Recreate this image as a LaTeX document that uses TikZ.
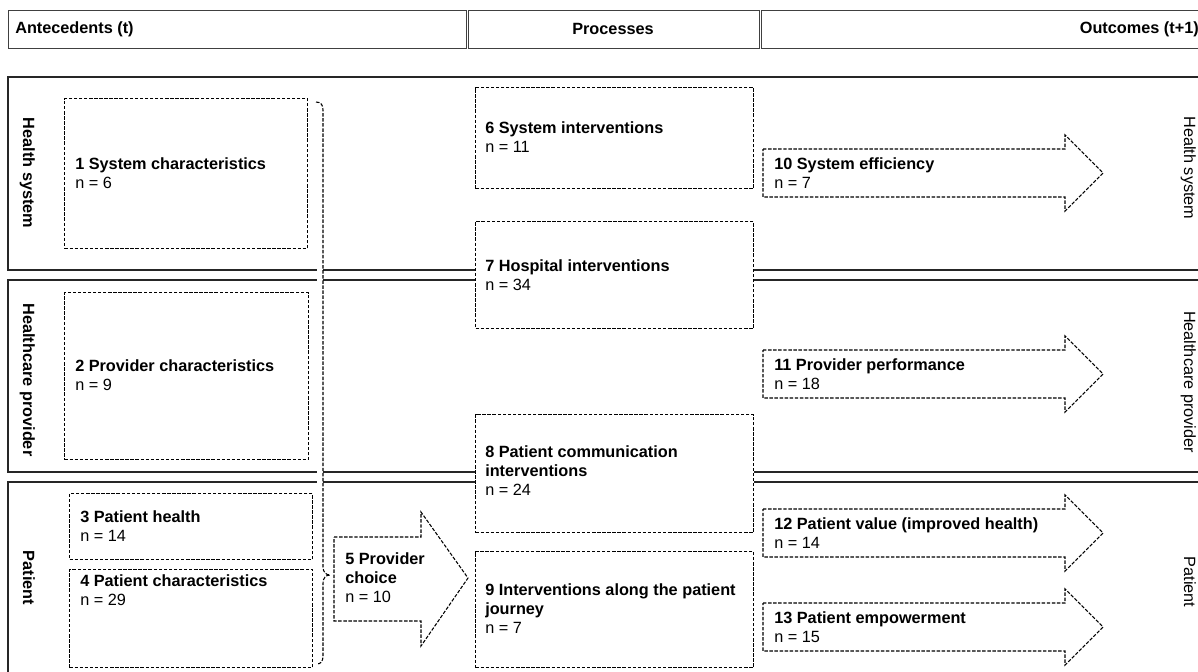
\documentclass[tikz,border=0pt]{standalone}
\usepackage{fontspec}
\setmainfont{Liberation Sans}
\begin{document}
\begin{tikzpicture}[x=0.75pt,y=-0.75pt,
  lane/.style={draw=black!85, line width=1.15pt},
  hdr/.style={draw=black!75, line width=0.9pt, inner sep=0pt},
  dbox/.style={draw=black, line width=0.8pt, dash pattern=on 2.6pt off 1.2pt, fill=white, inner sep=0pt},
  brace/.style={draw=black, line width=0.8pt, dash pattern=on 2.6pt off 1.2pt},
  txt/.style={inner sep=0pt, align=left, font=\fontsize{12.2}{14.25}\selectfont},
  htxt/.style={inner sep=0pt, font=\fontsize{12.2}{14.25}\selectfont\bfseries},
  llab/.style={inner sep=0pt, rotate=-90, anchor=base, font=\fontsize{12.2}{14.25}\selectfont\bfseries},
  rlab/.style={inner sep=0pt, rotate=-90, anchor=base, font=\fontsize{12.2}{14.25}\selectfont}]
\useasboundingbox (0,0) rectangle (1198,671);
\clip (0,0) rectangle (1198,671);

% header
\node[hdr, anchor=north west, minimum width=458*0.75pt, minimum height=38*0.75pt] (h1) at (8,10) {};
\node[hdr, anchor=north west, minimum width=291*0.75pt, minimum height=38*0.75pt] (h2) at (468,10) {};
\node[hdr, anchor=north west, minimum width=460*0.75pt, minimum height=38*0.75pt] (h3) at (761,10) {};
\node[htxt, anchor=west] (ht1) at (15,29) {Antecedents (t)};
\node[htxt] (ht2) at (613,29) {Processes};
\node[htxt, anchor=east] (ht3) at (1199,29) {Outcomes (t+1)};

% lanes
\draw[lane] (8,77) rectangle (1220,270);
\draw[lane] (8,280) rectangle (1220,472);
\draw[lane] (8,482) rectangle (1220,690);
\fill[white] (316.5,262) rectangle (322.6,290);
\fill[white] (316.5,465) rectangle (322.6,490);

\node[llab] (l1) at (23,173) {Health system};
\node[llab] (l2) at (23,380) {Healthcare provider};
\node[llab] (l3) at (23,578) {Patient};
\node[rlab] (r1) at (1184,168) {Health system};
\node[rlab] (r2) at (1184,382) {Healthcare provider};
\node[rlab] (r3) at (1184,582) {Patient};

% antecedent boxes
\node[dbox, anchor=north west, minimum width=243*0.75pt, minimum height=150*0.75pt] (b1) at (64,98) {};
\node[dbox, anchor=north west, minimum width=244*0.75pt, minimum height=167*0.75pt] (b2) at (64,292) {};
\node[dbox, anchor=north west, minimum width=243*0.75pt, minimum height=66*0.75pt] (b3) at (69,493) {};
\node[dbox, anchor=north west, minimum width=243*0.75pt, minimum height=98*0.75pt] (b4) at (69,569) {};

% process boxes
\node[dbox, anchor=north west, minimum width=278*0.75pt, minimum height=101*0.75pt] (b6) at (475,87) {};
\node[dbox, anchor=north west, minimum width=278*0.75pt, minimum height=107*0.75pt] (b7) at (475,221) {};
\node[dbox, anchor=north west, minimum width=278*0.75pt, minimum height=118*0.75pt] (b8) at (475,414) {};
\node[dbox, anchor=north west, minimum width=278*0.75pt, minimum height=116*0.75pt] (b9) at (475,551) {};

% brace
\draw[brace] (316,102) .. controls (321,102) and (323,105) .. (323,110)
  -- (323,567) .. controls (323,572) and (326,575) .. (330,575)
  .. controls (326,575) and (323,578) .. (323,583)
  -- (323,656) .. controls (323,661) and (321,664) .. (317,664);

% block arrows
\draw[dbox] (334,537) -- (421,537) -- (421,512) -- (468,578) -- (421,646) -- (421,621) -- (334,621) -- cycle;
\draw[dbox] (763,149) -- (1065,149) -- (1065,135) -- (1103,173) -- (1065,211) -- (1065,197) -- (763,197) -- cycle;
\draw[dbox] (763,350) -- (1065,350) -- (1065,336) -- (1103,374) -- (1065,412) -- (1065,398) -- (763,398) -- cycle;
\draw[dbox] (763,509) -- (1065,509) -- (1065,495) -- (1103,533) -- (1065,571) -- (1065,557) -- (763,557) -- cycle;
\draw[dbox] (763,603) -- (1065,603) -- (1065,589) -- (1103,627) -- (1065,665) -- (1065,651) -- (763,651) -- cycle;

% texts
\node[txt, anchor=west] (t1) at (75,173) {\textbf{1 System characteristics}\\n = 6};
\node[txt, anchor=west] (t2) at (75,375) {\textbf{2 Provider characteristics}\\n = 9};
\node[txt, anchor=west] (t3) at (80,526) {\textbf{3 Patient health}\\n = 14};
\node[txt, anchor=west] (t4) at (80,590) {\textbf{4 Patient characteristics}\\n = 29};
\node[txt, anchor=west] (t5) at (345,578) {\textbf{5 Provider}\\\textbf{choice}\\n = 10};
\node[txt, anchor=west] (t6) at (485,137) {\textbf{6 System interventions}\\n = 11};
\node[txt, anchor=west] (t7) at (485,275) {\textbf{7 Hospital interventions}\\n = 34};
\node[txt, anchor=west] (t8) at (485,471) {\textbf{8 Patient communication}\\\textbf{interventions}\\n = 24};
\node[txt, anchor=west] (t9) at (485,609) {\textbf{9 Interventions along the patient}\\\textbf{journey}\\n = 7};
\node[txt, anchor=west] (t10) at (774,173) {\textbf{10 System efficiency}\\n = 7};
\node[txt, anchor=west] (t11) at (774,374) {\textbf{11 Provider performance}\\n = 18};
\node[txt, anchor=west] (t12) at (774,533) {\textbf{12 Patient value (improved health)}\\n = 14};
\node[txt, anchor=west] (t13) at (774,627) {\textbf{13 Patient empowerment}\\n = 15};
\end{tikzpicture}
\end{document}
